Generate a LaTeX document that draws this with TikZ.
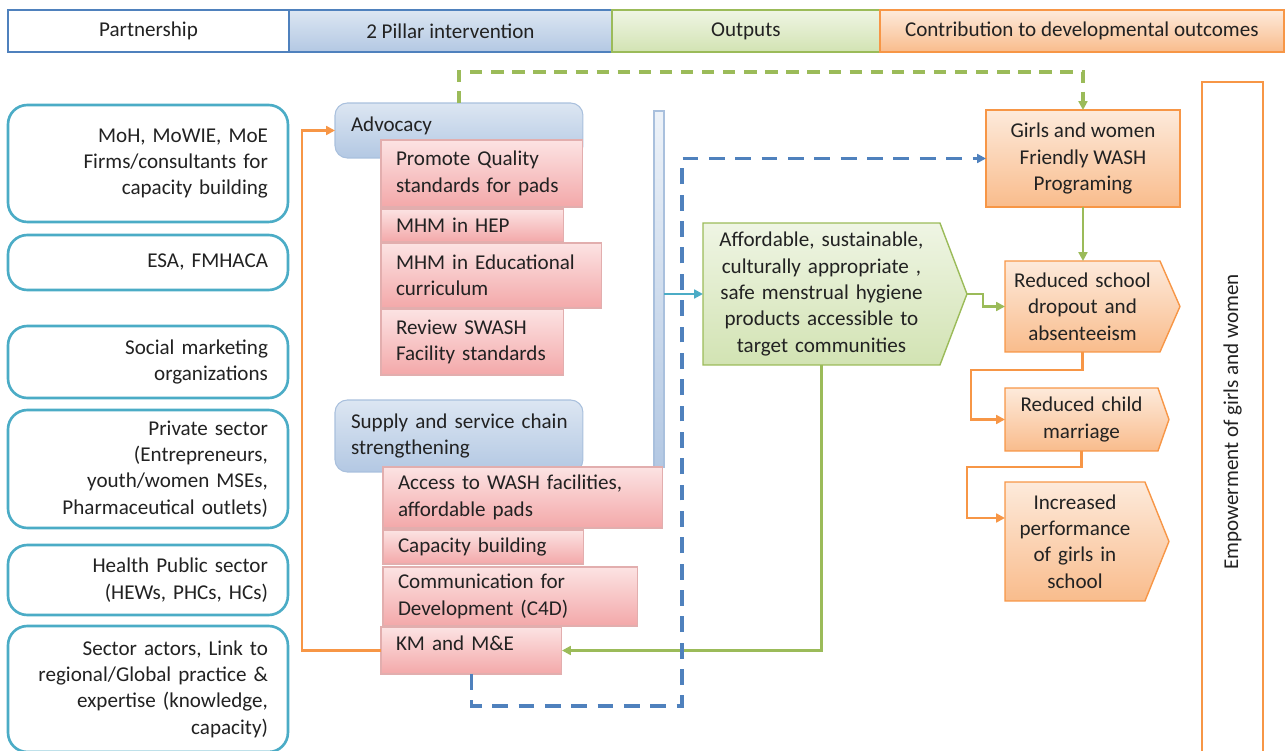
\documentclass[tikz,border=0pt]{standalone}
\usepackage{fontspec}
\setmainfont{Carlito}
\usepackage{graphicx}
\usetikzlibrary{arrows.meta,calc,positioning,backgrounds}
\definecolor{txt}{HTML}{222222}
\definecolor{hdblue}{HTML}{4F81BD}
\definecolor{bluetop}{HTML}{DCE6F2}
\definecolor{bluebot}{HTML}{B3C8E3}
\definecolor{blueedge}{HTML}{A9C0DD}
\definecolor{grline}{HTML}{9BBB59}
\definecolor{grtop}{HTML}{EFF5E4}
\definecolor{grbot}{HTML}{D2E3B3}
\definecolor{orline}{HTML}{F79646}
\definecolor{ortop}{HTML}{FDEADB}
\definecolor{orbot}{HTML}{F9BC8C}
\definecolor{pktop}{HTML}{FCE3E3}
\definecolor{pkbot}{HTML}{F3A8A9}
\definecolor{pkedge}{HTML}{E2AEAE}
\definecolor{partline}{HTML}{4BACC6}

\begin{document}
\begin{tikzpicture}[x=0.02cm, y=-0.02cm,
    base/.style={font=\fontsize{12}{15}\selectfont, text=txt, inner sep=0pt, outer sep=0pt, anchor=north west},
    head/.style={base, line width=1.2pt, minimum height=0.84cm},
    partner/.style={base, draw=partline, line width=1.5pt, rounded corners=11pt, fill=white, text width=4.8cm, inner xsep=0.4cm, align=right},
    pillar/.style={base, draw=blueedge, line width=0.6pt, rounded corners=7pt, top color=bluetop, bottom color=bluebot, text width=4.32cm, inner xsep=0.32cm, align=left},
    act/.style={base, draw=pkedge, line width=0.6pt, top color=pktop, bottom color=pkbot, inner xsep=0.3cm, align=left},
    grshape/.style={draw=grline, line width=0.8pt, top color=grtop, bottom color=grbot},
    orshape/.style={draw=orline, line width=0.8pt, top color=ortop, bottom color=orbot},
    pent/.style={base, align=center},
    orarrow/.style={orline, line width=1.4pt, -{Triangle[length=5pt,width=5pt]}},
    grarrow/.style={grline, line width=1.4pt, -{Triangle[length=5pt,width=5pt]}},
    bldash/.style={hdblue, line width=2pt, dash pattern=on 9pt off 6pt, -{Triangle[length=5pt,width=5pt]}},
    grdash/.style={grline, line width=2pt, dash pattern=on 7pt off 5pt, -{Triangle[length=5pt,width=5pt]}},
    tealarrow/.style={partline, line width=1.2pt, -{Triangle[length=5pt,width=5pt]}}]
  \path[use as bounding box] (0,0) rectangle (1286,751);
  \clip (0,0) rectangle (1286,751);

  % header row
  \node[head, draw=hdblue, fill=white, minimum width=5.62cm] (hp) at (8,10) {Partnership};
  \node[head, draw=hdblue, top color=bluetop, bottom color=bluebot, minimum width=6.46cm, right=0pt of hp] (hpi) {2 Pillar intervention};
  \node[head, draw=grline, top color=grtop, bottom color=grbot, minimum width=5.36cm, right=0pt of hpi] (ho) {Outputs};
  \node[head, draw=orline, top color=ortop, bottom color=orbot, minimum width=8.08cm, right=0pt of ho] (hc) {Contribution to developmental outcomes};

  % partners
  \foreach \n/\y/\h/\t in {p1/105/2.34/{MoH, MoWIE, MoE\\Firms/consultants for\\capacity building},
      p2/235/1.10/{ESA, FMHACA},
      p3/326/1.44/{Social marketing\\organizations},
      p4/410/2.36/{Private sector\\(Entrepreneurs,\\youth/women MSEs,\\Pharmaceutical outlets)},
      p5/545/1.40/{Health Public sector\\(HEWs, PHCs, HCs)},
      p6/626/2.52/{Sector actors, Link to\\regional/Global practice \&\\expertise (knowledge,\\capacity)}}{
    \node[partner, minimum height=\h cm] (\n) at (8,\y) {\t};
  }

  % two pillars
  \node[pillar, minimum height=1.10cm, text depth=7pt] (adv) at (335,103) {Advocacy};
  \node[pillar, minimum height=1.44cm] (sup) at (335,400) {\mbox{Supply and service chain}\\strengthening};
  \node[base, draw=blueedge, line width=0.6pt, top color=bluetop!50, bottom color=bluebot, minimum width=0.2cm, minimum height=7.14cm] (bar) at (654,111) {};
  \foreach \n/\x/\y/\w/\h/\t in {pq/381/140/3.44/1.34/{Promote Quality\\standards for pads},
      hep/381/209/3.06/0.66/{MHM in HEP},
      edu/381/243/3.82/1.30/{MHM in Educational\\curriculum},
      sw/381/309/3.06/1.32/{Review SWASH\\Facility standards},
      acc/383/467/5.00/1.22/{Access to WASH facilities,\\affordable pads},
      cap/383/530/3.42/0.68/{Capacity building},
      c4d/383/567/4.50/1.18/{Communication for\\Development (C4D)}}{
    \node[act, text width=\w cm, minimum height=\h cm] (\n) at (\x,\y) {\t};
  }
  \node[act, text width=3.02cm, minimum height=0.94cm, text depth=8pt] (km) at (381,627) {KM and M\&E};

  % output and outcomes
  \node[pent, text width=4.5cm, minimum width=4.74cm, minimum height=2.84cm] (out) at (703,223) {Affordable, sustainable,\\culturally appropriate ,\\safe menstrual hygiene\\products accessible to\\target communities};
  \coordinate (outtip) at ($(out.east)+(27,0)$);
  \node[base, orshape, align=center, minimum width=3.88cm, minimum height=1.94cm] (gw) at (986,110) {Girls and women\\Friendly WASH\\Programing};
  \node[pent, text width=2.9cm, minimum width=3.10cm, minimum height=1.82cm] (rs) at (1005,261) {Reduced school\\dropout and\\absenteeism};
  \node[pent, text width=2.9cm, minimum width=3.06cm, minimum height=1.26cm] (rc) at (1005,388) {Reduced child\\marriage};
  \node[pent, text width=2.7cm, minimum width=2.80cm, minimum height=2.38cm] (ip) at (1005,482) {Increased\\performance\\of girls in\\school};
  \begin{scope}[on background layer]
    \foreach \n/\d/\s in {out/27/grshape, rs/20/orshape, rc/11/orshape, ip/24/orshape}
      \path[\s] (\n.north west) -- (\n.north east) -- ($(\n.east)+(\d,0)$) -- (\n.south east) -- (\n.south west) -- cycle;
  \end{scope}
  \node[base, draw=orline, line width=1.4pt, fill=white, minimum width=1.22cm, minimum height=13.6cm] (emp) at (1202,82) {\rotatebox{90}{Empowerment of girls and women}};

  % connectors
  \draw[orarrow] (km.west) -- ++(-79,0) |- (adv.west);
  \draw[grarrow] (out.south) |- (km.east);
  \draw[bldash] (km.south) -- ++(0,32) -- ++(210.5,0) |- (gw.west);
  \draw[grdash] (adv.north) -- ++(0,-31) -| (gw.north);
  \draw[tealarrow] (bar.east |- out.west) -- (out.west);
  \draw[grarrow] (gw.south) -- (gw.south |- rs.north);
  \draw[grarrow] (outtip) -- ++(16,0) |- (rs.west);
  \draw[orarrow] (rs.south) -- ++(0,18) -- ++(-111.5,0) |- (rc.west);
  \draw[orarrow] (rc.south) -- ++(0,16) -- ++(-114.5,0) |- ([yshift=0.47cm]ip.west);
\end{tikzpicture}
\end{document}
